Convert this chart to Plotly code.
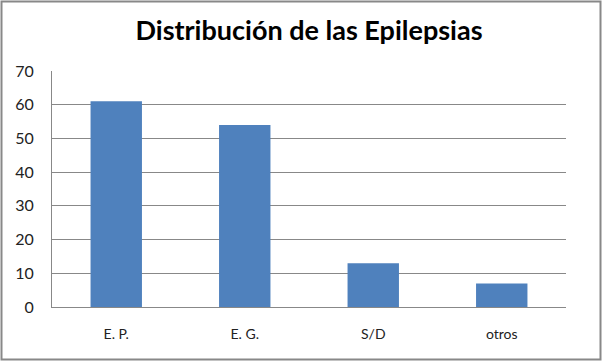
import plotly.graph_objects as go

categories = ["E. P.", "E. G.", "S/D", "otros"]
values = [61, 54, 13, 7]
y_ticks = [0, 10, 20, 30, 40, 50, 60, 70]

W, H = 602, 361
L, R, T, B = 52, 36, 71, 54
pw, ph = W - L - R, H - T - B

fig = go.Figure(go.Bar(
    x=categories, y=values,
    marker=dict(color="#4f81bd", line=dict(width=0)),
))

fig.update_layout(
    width=W, height=H,
    margin=dict(l=L, r=R, t=T, b=B),
    paper_bgcolor="white", plot_bgcolor="white",
    bargap=0.6,
    showlegend=False,
    title=dict(text="<b>Distribución de las Epilepsias</b>",
               xref="paper", x=0.5, xanchor="center",
               y=1 - 31 / H, yanchor="middle",
               font=dict(family="Lato, Noto Sans, sans-serif", size=27, color="black")),
    font=dict(family="Lato, Noto Sans, sans-serif", size=14, color="#222222"),
    xaxis=dict(showgrid=False, showline=True, linecolor="#888888", linewidth=1,
               ticks="", tickfont=dict(size=14), ticklabelstandoff=14),
    yaxis=dict(range=[0, 70], tickvals=y_ticks, showgrid=True, gridcolor="#888888",
               gridwidth=1, showline=True, linecolor="#888888", linewidth=1,
               ticks="", zeroline=False,
               tickfont=dict(size=16), ticklabelstandoff=14),
    shapes=[dict(type="rect", xref="paper", yref="paper",
                 x0=(1.5 - L) / pw, x1=(W - 1.5 - L) / pw,
                 y0=-((H - 1.5) - (T + ph)) / ph,
                 y1=(ph + T - 1.5) / ph,
                 line=dict(color="#888888", width=2))],
)

fig.write_html("out.html", config={"displayModeBar": False},
               post_script="document.body.style.margin='0';")
